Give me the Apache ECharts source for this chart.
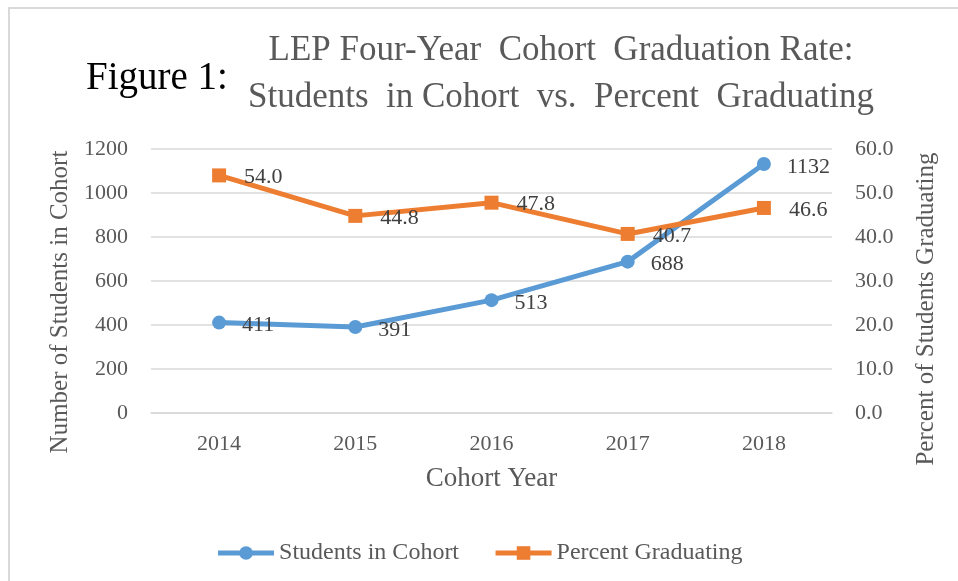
<!DOCTYPE html>
<html>
<head>
<meta charset="utf-8">
<script src="https://cdn.jsdelivr.net/npm/echarts@6/dist/echarts.min.js"></script>
<style>
  html, body { margin: 0; padding: 0; background: #fff; }
  #chart { width: 958px; height: 581px; }
</style>
</head>
<body>
<div id="chart"></div>
<script>
const years = ['2014', '2015', '2016', '2017', '2018'];
const students = [411, 391, 513, 688, 1132];
const percentGrad = [54.0, 44.8, 47.8, 40.7, 46.6];

const FONT = '"Liberation Serif", "DejaVu Serif", serif';
const TXT = '#595959';
const BLUE = '#5B9BD5';
const ORANGE = '#ED7D31';

const chart = echarts.init(document.getElementById('chart'));

// axis titles sit a bit lower than the plot centre, so draw them by hand
const sideTitle = (text, x, y) => ({
  type: 'text',
  x, y,
  rotation: Math.PI / 2,
  style: {
    text, font: '25px ' + FONT, fill: TXT,
    align: 'center', verticalAlign: 'middle'
  }
});

const option = {
  backgroundColor: '#fff',
  animation: false,
  textStyle: { fontFamily: FONT },
  graphic: [
    {
      type: 'rect',
      shape: { x: 9, y: 8, width: 1000, height: 600 },
      style: { fill: 'none', stroke: '#d9d9d9', lineWidth: 2 },
      silent: true
    },
    {
      type: 'text',
      x: 86, y: 79,
      style: { text: 'Figure 1:', font: '39px ' + FONT, fill: '#000', verticalAlign: 'middle' }
    },
    {
      type: 'text',
      x: 561, y: 51,
      style: {
        text: 'LEP Four-Year  Cohort  Graduation Rate:',
        font: '35px ' + FONT, fill: TXT, align: 'center', verticalAlign: 'middle'
      }
    },
    {
      type: 'text',
      x: 561, y: 98,
      style: {
        text: 'Students  in Cohort  vs.  Percent  Graduating',
        font: '35px ' + FONT, fill: TXT, align: 'center', verticalAlign: 'middle'
      }
    },
    sideTitle('Number of Students in Cohort', 60, 302),
    sideTitle('Percent of Students Graduating', 926, 309)
  ],
  legend: {
    top: 536,
    left: 'center',
    itemWidth: 56,
    itemHeight: 17,
    itemGap: 34,
    itemTextGap: 4,
    textStyle: { fontFamily: FONT, fontSize: 24, color: TXT },
    data: [
      { name: 'Students in Cohort', lineStyle: { width: 5 } },
      { name: 'Percent Graduating', lineStyle: { width: 5 } }
    ]
  },
  grid: { left: 151, right: 126, top: 149, bottom: 168 },
  xAxis: {
    type: 'category',
    data: years,
    boundaryGap: true,
    name: 'Cohort Year',
    nameLocation: 'middle',
    nameGap: 52,
    nameTextStyle: { fontFamily: FONT, fontSize: 27, color: TXT },
    axisLine: { lineStyle: { color: '#d9d9d9', width: 1.5 } },
    axisTick: { show: false },
    axisLabel: { margin: 20, fontFamily: FONT, fontSize: 22, color: TXT }
  },
  yAxis: [
    {
      type: 'value',
      min: 0, max: 1200, interval: 200,
      axisLine: { show: false },
      axisTick: { show: false },
      axisLabel: {
        margin: 23, fontFamily: FONT, fontSize: 22, color: TXT,
        formatter: v => String(v)
      },
      splitLine: { lineStyle: { color: '#d9d9d9', width: 1.5 } }
    },
    {
      type: 'value',
      min: 0, max: 60, interval: 10,
      axisLine: { show: false },
      axisTick: { show: false },
      axisLabel: {
        margin: 23, fontFamily: FONT, fontSize: 22, color: TXT,
        formatter: v => v.toFixed(1)
      },
      splitLine: { show: false }
    }
  ],
  series: [
    {
      name: 'Students in Cohort',
      type: 'line',
      yAxisIndex: 0,
      data: students,
      symbol: 'circle',
      symbolSize: 14,
      itemStyle: { color: BLUE },
      lineStyle: { color: BLUE, width: 5 },
      label: {
        show: true, position: 'right', distance: 16, offset: [0, 3],
        fontFamily: FONT, fontSize: 22, color: '#404040'
      },
      z: 2
    },
    {
      name: 'Percent Graduating',
      type: 'line',
      yAxisIndex: 1,
      data: percentGrad,
      symbol: 'rect',
      symbolSize: 14,
      itemStyle: { color: ORANGE },
      lineStyle: { color: ORANGE, width: 5 },
      label: {
        show: true, position: 'right', distance: 18, offset: [0, 2],
        fontFamily: FONT, fontSize: 22, color: '#404040',
        formatter: p => p.value.toFixed(1)
      },
      z: 3
    }
  ]
};

chart.setOption(option);
</script>
</body>
</html>
